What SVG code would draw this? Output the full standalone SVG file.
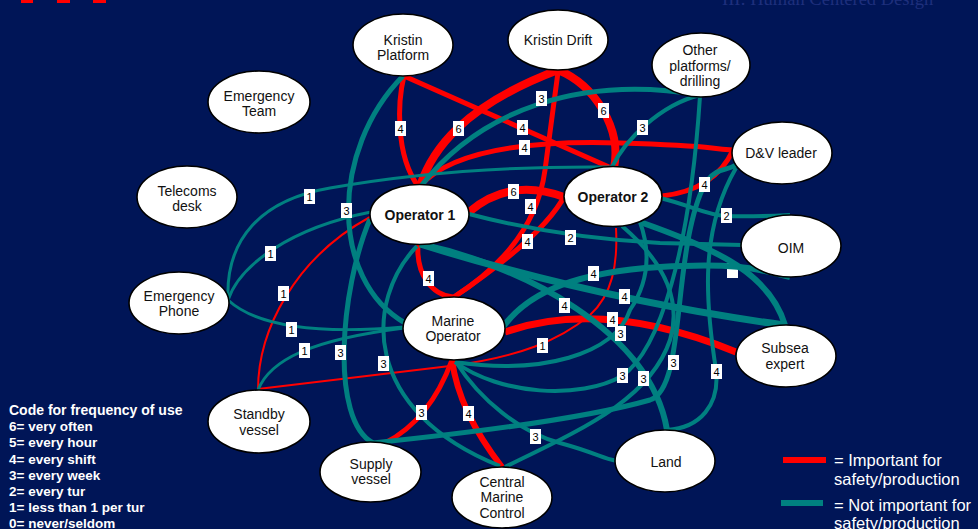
<svg xmlns="http://www.w3.org/2000/svg" width="978" height="529" viewBox="0 0 978 529">
  <style>
    .bg { fill: #001557; }
    .node ellipse { fill: #ffffff; stroke: #000000; stroke-width: 1.6; }
    .node text { font-family: "Liberation Sans", Arial, sans-serif; font-size: 14px; fill: #111111; text-anchor: middle; }
    .node text.b { font-weight: bold; }
    .edge { fill: none; stroke-linecap: butt; stroke-linejoin: round; }
    .red { stroke: #ff0000; }
    .teal { stroke: #008080; }
    .w2 { stroke-width: 2; }
    .w3 { stroke-width: 3; }
    .w4 { stroke-width: 4; }
    .w5 { stroke-width: 5; }
    .w6 { stroke-width: 6; }
    .w7 { stroke-width: 7; }
    .w8 { stroke-width: 8; }
    .lbl rect { fill: #ffffff; }
    .lbl text { font-family: "Liberation Sans", Arial, sans-serif; font-size: 11px; fill: #000000; text-anchor: middle; }
    .legend { font-family: "Liberation Sans", Arial, sans-serif; fill: #ffffff; }
  </style>

  <rect class="bg" x="0" y="0" width="978" height="529"/>

  <!-- header remnants -->
  <g id="header">
    <rect x="21" y="0" width="12" height="3" fill="#ff0000"/>
    <rect x="57" y="0" width="13" height="3" fill="#ff0000"/>
    <rect x="93" y="0" width="13" height="3" fill="#ff0000"/>
    <text x="722" y="4.5" font-family="Liberation Serif, 'Times New Roman', serif" font-size="18.5" fill="#1e2f7c">III: Human Centered Design</text>
  </g>

  <!-- label box hidden under a connector -->
  <g id="covered-label" class="lbl">
    <rect x="727" y="263" width="11" height="15"/>
  </g>

  <g id="connectors">
    <!-- important links -->
    <path class="edge red w5" d="M404,76 C398,100 394.7,154 418,186"/>
    <path class="edge red w5" d="M404,76 L609,167"/>
    <path class="edge red w8" d="M420,186 C432,150 463,106 558,70"/>
    <path class="edge red w8" d="M558,70 C595,85 622,129 614,168"/>
    <path class="edge red w5" d="M558,72 L545,170 Q535,245 454,297"/>
    <path class="edge red w5" d="M565,195 Q544,236 454,297"/>
    <path class="edge red w8" d="M469,212 Q510,177 564,197"/>
    <path class="edge red w5" d="M418,244 C416,275 432,295 453,297"/>
    <path class="edge red w5" d="M420,186 C450,152 520,140 620,143 S700,148 733,150"/>
    <path class="edge red w5" d="M662,196 Q715,190 733,150"/>
    <path class="edge red w7" d="M505,332 Q603,298 736,352"/>
    <path class="edge red w2" d="M258,389 L450,366 C520,357 560,340 590,315 C612,295 618,265 616,228"/>
    <path class="edge red w2" d="M258,390 C258,330 295,258 370,217"/>
    <path class="edge red w5" d="M452,360 Q430,420 385,443"/>
    <path class="edge red w6" d="M452,360 Q459,412 502,467"/>

    <!-- other links -->
    <path class="edge teal w5" d="M403,76 C330,150 330,280 405,323"/>
    <path class="edge teal w5" d="M370,219 C340,290 330,420 373,443"/>
    <path class="edge teal w4" d="M417,246 C365,300 360,410 500,466"/>
    <path class="edge teal w3" d="M228,298 C226,240 260,200 330,188 C420,172 520,166 612,167"/>
    <path class="edge teal w3" d="M228,300 C240,265 290,228 371,212"/>
    <path class="edge teal w3" d="M228,300 C255,325 310,335 404,327"/>
    <path class="edge teal w3" d="M258,390 C270,360 310,340 404,328"/>
    <path class="edge teal w5" d="M421,186 C480,110 580,75 700,95"/>
    <path class="edge teal w4" d="M612,167 C625,140 660,105 700,95"/>
    <path class="edge teal w4" d="M660,198 C690,205 705,215 726,216 S770,216 790,215"/>
    <path class="edge teal w4" d="M469,214 Q560,238 660,243 L742,245"/>
    <path class="edge teal w7" d="M420,244 Q600,300 784,325"/>
    <path class="edge teal w6" d="M420,244 C520,265 650,330 667,430"/>
    <path class="edge teal w6" d="M503,327 C530,290 580,272 660,267 S760,270 790,277"/>
    <path class="edge teal w4" d="M455,362 C540,375 615,355 630,310 C650,280 650,250 640,222"/>
    <path class="edge teal w4" d="M455,362 C500,395 580,400 622,376 C660,350 690,250 700,96"/>
    <path class="edge teal w5" d="M373,443 C450,435 580,420 650,400 C680,390 675,300 690,230 S720,175 736,165"/>
    <path class="edge teal w4" d="M505,467 C580,430 650,400 670,340 C685,290 650,250 622,226"/>
    <path class="edge teal w4" d="M736,168 C700,230 705,300 716,370 C720,405 700,428 667,430"/>
    <path class="edge teal w6" d="M640,222 C720,250 770,275 785,325"/>
    <path class="edge teal w4" d="M456,362 C480,400 520,432 560,443 S600,458 617,461"/>
  </g>

  <g id="labels" class="lbl">
    <rect x="395" y="121" width="11" height="15"/><text x="400.5" y="132.5">4</text>
    <rect x="517" y="120" width="11" height="15"/><text x="522.5" y="131.5">4</text>
    <rect x="453" y="121" width="11" height="15"/><text x="458.5" y="132.5">6</text>
    <rect x="598" y="103" width="11" height="15"/><text x="603.5" y="114.5">6</text>
    <rect x="525" y="199" width="11" height="15"/><text x="530.5" y="210.5">4</text>
    <rect x="522" y="234" width="11" height="15"/><text x="527.5" y="245.5">4</text>
    <rect x="508" y="184" width="11" height="15"/><text x="513.5" y="195.5">6</text>
    <rect x="423" y="271" width="11" height="15"/><text x="428.5" y="282.5">4</text>
    <rect x="519" y="140" width="11" height="15"/><text x="524.5" y="151.5">4</text>
    <rect x="699" y="177" width="11" height="15"/><text x="704.5" y="188.5">4</text>
    <rect x="607" y="312" width="11" height="15"/><text x="612.5" y="323.5">4</text>
    <rect x="537" y="338" width="11" height="15"/><text x="542.5" y="349.5">1</text>
    <rect x="278" y="286" width="11" height="15"/><text x="283.5" y="297.5">1</text>
    <rect x="416" y="405" width="11" height="15"/><text x="421.5" y="416.5">3</text>
    <rect x="463" y="406" width="11" height="15"/><text x="468.5" y="417.5">4</text>

    <rect x="341" y="203" width="11" height="15"/><text x="346.5" y="214.5">3</text>
    <rect x="335" y="345" width="11" height="15"/><text x="340.5" y="356.5">3</text>
    <rect x="378" y="356" width="11" height="15"/><text x="383.5" y="367.5">3</text>
    <rect x="304" y="189" width="11" height="15"/><text x="309.5" y="200.5">1</text>
    <rect x="265" y="246" width="11" height="15"/><text x="270.5" y="257.5">1</text>
    <rect x="286" y="322" width="11" height="15"/><text x="291.5" y="333.5">1</text>
    <rect x="299" y="343" width="11" height="15"/><text x="304.5" y="354.5">1</text>
    <rect x="536" y="91" width="11" height="15"/><text x="541.5" y="102.5">3</text>
    <rect x="637" y="120" width="11" height="15"/><text x="642.5" y="131.5">3</text>
    <rect x="721" y="208" width="11" height="15"/><text x="726.5" y="219.5">2</text>
    <rect x="565" y="230" width="11" height="15"/><text x="570.5" y="241.5">2</text>
    <rect x="619" y="289" width="11" height="15"/><text x="624.5" y="300.5">4</text>
    <rect x="559" y="298" width="11" height="15"/><text x="564.5" y="309.5">4</text>
    <rect x="588" y="266" width="11" height="15"/><text x="593.5" y="277.5">4</text>
    <rect x="615" y="326" width="11" height="15"/><text x="620.5" y="337.5">3</text>
    <rect x="617" y="368" width="11" height="15"/><text x="622.5" y="379.5">3</text>
    <rect x="668" y="355" width="11" height="15"/><text x="673.5" y="366.5">3</text>
    <rect x="638" y="371" width="11" height="15"/><text x="643.5" y="382.5">3</text>
    <rect x="530" y="429" width="11" height="15"/><text x="535.5" y="440.5">3</text>
    <rect x="711" y="364" width="11" height="15"/><text x="716.5" y="375.5">4</text>
  </g>

  <g id="kristin-platform" class="node"><ellipse cx="403" cy="45" rx="50" ry="31"/><text x="403" y="45">Kristin</text><text x="403" y="60">Platform</text></g>
  <g id="kristin-drift" class="node"><ellipse cx="558" cy="40" rx="50" ry="30"/><text x="558" y="45">Kristin Drift</text></g>
  <g id="other-platforms" class="node"><ellipse cx="701" cy="65" rx="49" ry="32"/><text x="700" y="55">Other</text><text x="700" y="71">platforms/</text><text x="700" y="86">drilling</text></g>
  <g id="dv-leader" class="node"><ellipse cx="782" cy="153" rx="50" ry="31"/><text x="781" y="158">D&amp;V leader</text></g>
  <g id="emergency-team" class="node"><ellipse cx="259" cy="102" rx="51" ry="31"/><text x="259" y="101">Emergency</text><text x="259" y="116">Team</text></g>
  <g id="telecoms-desk" class="node"><ellipse cx="187" cy="197" rx="50" ry="31"/><text x="187" y="196">Telecoms</text><text x="187" y="211">desk</text></g>
  <g id="emergency-phone" class="node"><ellipse cx="179" cy="303" rx="50" ry="31"/><text x="179" y="301">Emergency</text><text x="179" y="316">Phone</text></g>
  <g id="operator-1" class="node"><ellipse cx="419.5" cy="214.5" rx="49.5" ry="30"/><text class="b" x="420" y="220">Operator 1</text></g>
  <g id="operator-2" class="node"><ellipse cx="613" cy="196.5" rx="49" ry="30"/><text class="b" x="613" y="202">Operator 2</text></g>
  <g id="marine-operator" class="node"><ellipse cx="454" cy="328.5" rx="51" ry="31.5"/><text x="453" y="326">Marine</text><text x="453" y="341">Operator</text></g>
  <g id="oim" class="node"><ellipse cx="791" cy="246" rx="50" ry="31"/><text x="791" y="253">OIM</text></g>
  <g id="subsea-expert" class="node"><ellipse cx="786" cy="356" rx="50" ry="31"/><text x="785" y="353">Subsea</text><text x="785" y="369">expert</text></g>
  <g id="standby-vessel" class="node"><ellipse cx="259" cy="421.5" rx="51" ry="31.5"/><text x="259" y="419">Standby</text><text x="259" y="435">vessel</text></g>
  <g id="supply-vessel" class="node"><ellipse cx="370.5" cy="472" rx="50.5" ry="30"/><text x="371" y="469">Supply</text><text x="371" y="484">vessel</text></g>
  <g id="central-marine-control" class="node"><ellipse cx="502" cy="497.5" rx="50" ry="30.5"/><text x="502" y="487">Central</text><text x="502" y="502">Marine</text><text x="502" y="518">Control</text></g>
  <g id="land" class="node"><ellipse cx="665" cy="461" rx="50" ry="31"/><text x="666" y="467">Land</text></g>

  <g id="frequency-legend" class="legend" font-weight="bold" font-size="13.5">
    <text x="9" y="415" font-size="14">Code for frequency of use</text>
    <text x="9" y="431">6= very often</text>
    <text x="9" y="447">5= every hour</text>
    <text x="9" y="464">4= every shift</text>
    <text x="9" y="480">3= every week</text>
    <text x="9" y="496">2= every tur</text>
    <text x="9" y="512">1= less than 1 per tur</text>
    <text x="9" y="528">0= never/seldom</text>
  </g>

  <g id="importance-legend" class="legend" font-size="16.5">
    <rect x="783" y="457" width="43" height="6" fill="#ff0000"/>
    <text x="834" y="466">= Important for</text>
    <text x="834" y="485">safety/production</text>
    <rect x="781" y="500" width="42" height="6" fill="#008080"/>
    <text x="834" y="511">= Not important for</text>
    <text x="834" y="529">safety/production</text>
  </g>
</svg>
